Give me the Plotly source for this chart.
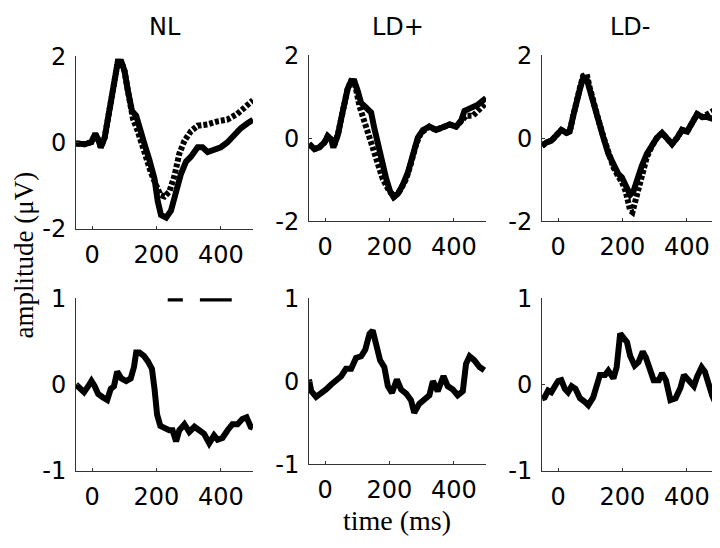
import plotly.graph_objects as go

W, H = 720, 548
OFF = 8  # the page puts the figure 8 px in from the top-left corner

# ---- grand averages (top row), amplitude in uV, time in ms ----
nl_solid_t = [-50, -23, -2, 10, 19, 27, 39, 49, 60, 70, 80, 91, 101, 111, 124, 137, 147, 163, 178, 194,
              204, 214, 230, 245, 256, 266, 276, 292, 307, 328, 343, 359, 379, 400, 420, 441, 462, 482, 500]
nl_solid_v = [-0.02, -0.04, 0.01, 0.20, 0.07, -0.11, 0.11, 0.55, 0.99, 1.36, 1.87, 1.87, 1.65, 1.21, 0.73,
              0.62, 0.40, -0.04, -0.40, -0.84, -1.36, -1.68, -1.74, -1.58, -1.28, -0.99, -0.73, -0.44, -0.33,
              -0.11, -0.11, -0.22, -0.15, -0.11, 0.00, 0.18, 0.33, 0.44, 0.53]
nl_dot_t = [-50, -23, -2, 10, 19, 27, 39, 49, 60, 70, 80, 91, 101, 111, 127, 142, 163, 183, 199, 212, 225,
            240, 256, 271, 287, 307, 328, 359, 390, 420, 451, 472, 500]
nl_dot_v = [-0.02, -0.04, 0.01, 0.20, 0.07, -0.11, 0.11, 0.55, 0.99, 1.36, 1.87, 1.87, 1.65, 1.21, 0.55,
            0.26, -0.26, -0.70, -0.99, -1.21, -1.25, -1.14, -0.77, -0.26, 0.04, 0.26, 0.39, 0.42, 0.49,
            0.53, 0.66, 0.78, 0.98]

ldp_solid_t = [-50, -33, -18, -2, 8, 19, 26, 40, 50, 60, 70, 81, 91, 101, 112, 127, 143, 153, 164, 177, 190,
               202, 213, 226, 241, 257, 273, 288, 304, 324, 345, 366, 387, 407, 423, 433, 454, 475, 500]
ldp_solid_v = [-0.14, -0.26, -0.22, -0.10, 0.05, -0.03, -0.22, 0.09, 0.47, 0.85, 1.19, 1.38, 1.37, 1.15,
               0.85, 0.74, 0.62, 0.24, -0.14, -0.60, -0.98, -1.28, -1.42, -1.34, -1.13, -0.83, -0.37, 0.01,
               0.20, 0.28, 0.20, 0.28, 0.33, 0.28, 0.43, 0.66, 0.74, 0.81, 0.97]
ldp_dot_t = [-50, -33, -18, -2, 8, 19, 26, 40, 50, 60, 70, 81, 91, 107, 122, 138, 159, 179, 200, 216, 231,
             252, 267, 283, 298, 324, 345, 366, 387, 407, 438, 459, 480, 500]
ldp_dot_v = [-0.14, -0.26, -0.22, -0.10, 0.05, -0.03, -0.22, 0.09, 0.47, 0.85, 1.19, 1.38, 1.37, 0.77, 0.39,
             -0.03, -0.52, -0.98, -1.28, -1.40, -1.28, -0.98, -0.60, -0.14, 0.13, 0.28, 0.20, 0.28, 0.33,
             0.28, 0.54, 0.54, 0.70, 0.85]

ldm_solid_t = [-50, -36, -21, -5, 10, 26, 36, 47, 57, 68, 78, 89, 99, 109, 125, 141, 156, 172, 187, 198,
               210, 224, 234, 245, 260, 276, 292, 307, 323, 339, 354, 370, 385, 401, 417, 432, 448, 464,
               479, 500]
ldm_solid_v = [-0.18, -0.10, -0.06, 0.05, 0.20, 0.13, 0.16, 0.54, 0.93, 1.19, 1.46, 1.42, 1.15, 0.85, 0.43,
               0.01, -0.37, -0.67, -0.86, -0.94, -1.13, -1.36, -1.28, -0.98, -0.67, -0.37, -0.18, 0.01,
               0.13, 0.01, -0.14, 0.01, 0.20, 0.16, 0.35, 0.58, 0.51, 0.51, 0.47, 0.51]
ldm_dot_t = [-50, -36, -21, -5, 10, 26, 36, 47, 57, 68, 78, 89, 99, 109, 125, 141, 156, 172, 187, 198, 210,
             224, 231, 245, 260, 276, 292, 307, 323, 339, 354, 370, 385, 401, 417, 432, 448, 464, 479, 500]
ldm_dot_v = [-0.18, -0.10, -0.06, 0.05, 0.20, 0.13, 0.16, 0.54, 0.93, 1.22, 1.50, 1.54, 1.20, 0.88, 0.45,
             0.03, -0.37, -0.70, -0.92, -1.05, -1.28, -1.74, -1.78, -1.36, -0.83, -0.45, -0.18, 0.01, 0.13,
             0.01, -0.14, 0.01, 0.20, 0.16, 0.35, 0.58, 0.51, 0.58, 0.66, 0.74]

# ---- difference waves (bottom row) ----
nl_diff_t = [-50, -38, -25, -12, -2, 8, 19, 34, 47, 58, 68, 78, 91, 106, 120, 130, 137, 147, 161, 173, 186,
             194, 202, 212, 225, 240, 250, 261, 271, 287, 302, 318, 333, 348, 364, 379, 390, 405, 421, 436,
             452, 467, 480, 493, 500]
nl_diff_v = [0.00, -0.05, -0.09, -0.02, 0.04, -0.02, -0.11, -0.15, -0.18, -0.05, -0.02, 0.15, 0.07, 0.04,
             0.07, 0.20, 0.37, 0.37, 0.33, 0.27, 0.18, -0.05, -0.35, -0.48, -0.51, -0.53, -0.53, -0.66,
             -0.53, -0.46, -0.55, -0.49, -0.53, -0.57, -0.68, -0.59, -0.64, -0.62, -0.53, -0.46, -0.46,
             -0.40, -0.38, -0.49, -0.50]

ldp_diff_t = [-50, -43, -28, -12, 3, 19, 34, 50, 65, 81, 96, 112, 125, 138, 148, 158, 171, 184, 195, 208,
              223, 236, 252, 267, 277, 293, 309, 324, 335, 350, 368, 381, 397, 412, 428, 438, 449, 464, 480,
              495]
ldp_diff_v = [0.02, -0.12, -0.19, -0.15, -0.10, -0.04, 0.00, 0.06, 0.15, 0.15, 0.28, 0.30, 0.38, 0.57, 0.61,
              0.42, 0.25, 0.17, -0.06, -0.14, 0.02, -0.10, -0.15, -0.23, -0.38, -0.27, -0.21, -0.17, 0.00,
              -0.12, 0.06, -0.06, -0.10, -0.17, -0.12, 0.21, 0.30, 0.25, 0.17, 0.13]

ldm_diff_t = [-50, -42, -31, -21, -10, 0, 10, 21, 31, 42, 54, 68, 83, 94, 109, 120, 130, 146, 156, 172, 182,
              193, 203, 214, 224, 238, 250, 263, 273, 286, 297, 313, 323, 335, 349, 365, 380, 391, 406, 422,
              432, 446, 456, 469, 479, 495]
ldm_diff_v = [-0.16, -0.15, -0.07, -0.09, -0.02, 0.04, 0.05, -0.05, -0.09, -0.02, -0.05, -0.16, -0.20, -0.24,
              -0.15, 0.02, 0.11, 0.11, 0.16, 0.07, 0.20, 0.59, 0.53, 0.49, 0.33, 0.22, 0.26, 0.38, 0.31, 0.16,
              0.05, 0.05, 0.13, 0.05, -0.18, -0.16, -0.04, 0.11, 0.04, -0.02, 0.09, 0.20, 0.15, -0.04, -0.13,
              -0.26]

# significant windows marked above the NL difference wave
sig_start = [235, 335]
sig_end = [282, 434]
sig_level = 0.98

titles = ["NL", "LD+", "LD-"]
x_ticks = [0, 200, 400]
x_tick_text = ["0", "200", "400"]
top_y_ticks = [-2, 0, 2]
top_y_text = ["-2", "0", "2"]
bot_y_ticks = [-1, 0, 1]
bot_y_text = ["-1", "0", "1"]

# panel boxes in screen pixels: (left, right) and (top, bottom)
cols = [(76, 253), (309, 486), (542, 719)]
rows_px = [[(44, 226), (43, 218), (43, 218)],
           [(299, 481), (299, 474), (299, 481)]]


def px_x(p):
    return (p - OFF) / W


def px_y(p):
    return 1 - (p - OFF) / H


tick_font = dict(family="DejaVu Sans", size=24, color="black")
serif = dict(family="Liberation Serif", size=28, color="black")
axis_col = "#333333"

fig = go.Figure()
layout = dict(width=W, height=H, margin=dict(l=0, r=0, t=0, b=0),
              paper_bgcolor="white", plot_bgcolor="white", showlegend=False)

top = [(nl_dot_t, nl_dot_v, nl_solid_t, nl_solid_v),
       (ldp_dot_t, ldp_dot_v, ldp_solid_t, ldp_solid_v),
       (ldm_dot_t, ldm_dot_v, ldm_solid_t, ldm_solid_v)]
bottom = [(nl_diff_t, nl_diff_v), (ldp_diff_t, ldp_diff_v), (ldm_diff_t, ldm_diff_v)]

n = 0
for r in range(2):
    for c in range(3):
        n += 1
        sfx = "" if n == 1 else str(n)
        xa, ya = "x" + sfx, "y" + sfx
        left, right = cols[c]
        ytop, ybot = rows_px[r][c]
        yr = [-2, 2] if r == 0 else [-1, 1]
        yt, ytt = (top_y_ticks, top_y_text) if r == 0 else (bot_y_ticks, bot_y_text)
        layout["xaxis" + sfx] = dict(domain=[px_x(left), px_x(right)], anchor=ya, range=[-50, 500],
                                     tickvals=x_ticks, ticktext=x_tick_text, ticks="inside", ticklen=3,
                                     tickwidth=1, tickcolor=axis_col, showline=True, linecolor=axis_col,
                                     linewidth=1, showgrid=False, zeroline=False, tickfont=tick_font,
                                     ticklabelstandoff=4)
        layout["yaxis" + sfx] = dict(domain=[px_y(ybot), px_y(ytop)], anchor=xa, range=yr,
                                     tickvals=yt, ticktext=ytt, ticks="inside", ticklen=3, tickwidth=1,
                                     tickcolor=axis_col, showline=True, linecolor=axis_col, linewidth=1,
                                     showgrid=False, zeroline=False, tickfont=tick_font,
                                     ticklabelstandoff=4)
        if r == 0:
            dt, dv, st, sv = top[c]
            fig.add_trace(go.Scatter(x=dt, y=dv, mode="lines", xaxis=xa, yaxis=ya,
                                     line=dict(color="black", width=6, dash="4px,2px")))
            fig.add_trace(go.Scatter(x=st, y=sv, mode="lines", xaxis=xa, yaxis=ya,
                                     line=dict(color="black", width=6)))
        else:
            bt, bv = bottom[c]
            fig.add_trace(go.Scatter(x=bt, y=bv, mode="lines", xaxis=xa, yaxis=ya,
                                     line=dict(color="black", width=6)))
            if c == 0:
                for s, e in zip(sig_start, sig_end):
                    fig.add_trace(go.Scatter(x=[s, e], y=[sig_level, sig_level], mode="lines",
                                             xaxis=xa, yaxis=ya, cliponaxis=False,
                                             line=dict(color="black", width=3.5)))

annotations = []
for c, t in enumerate(titles):
    left, right = cols[c]
    annotations.append(dict(text=t, x=px_x((left + right) / 2), y=px_y(13.5), xref="paper", yref="paper",
                            showarrow=False, xanchor="center", yanchor="middle",
                            font=dict(family="DejaVu Sans", size=24, color="black")))
annotations.append(dict(text="amplitude (\u03bcV)", x=px_x(24), y=px_y(254), xref="paper", yref="paper",
                        showarrow=False, textangle=-90, xanchor="center", yanchor="middle",
                        font=dict(family="Liberation Serif", size=27, color="black")))
annotations.append(dict(text="time (ms)", x=px_x(397), y=px_y(533), xref="paper", yref="paper",
                        showarrow=False, xanchor="center", yanchor="middle", font=serif))
layout["annotations"] = annotations

fig.update_layout(**layout)
fig.write_html("out.html")
